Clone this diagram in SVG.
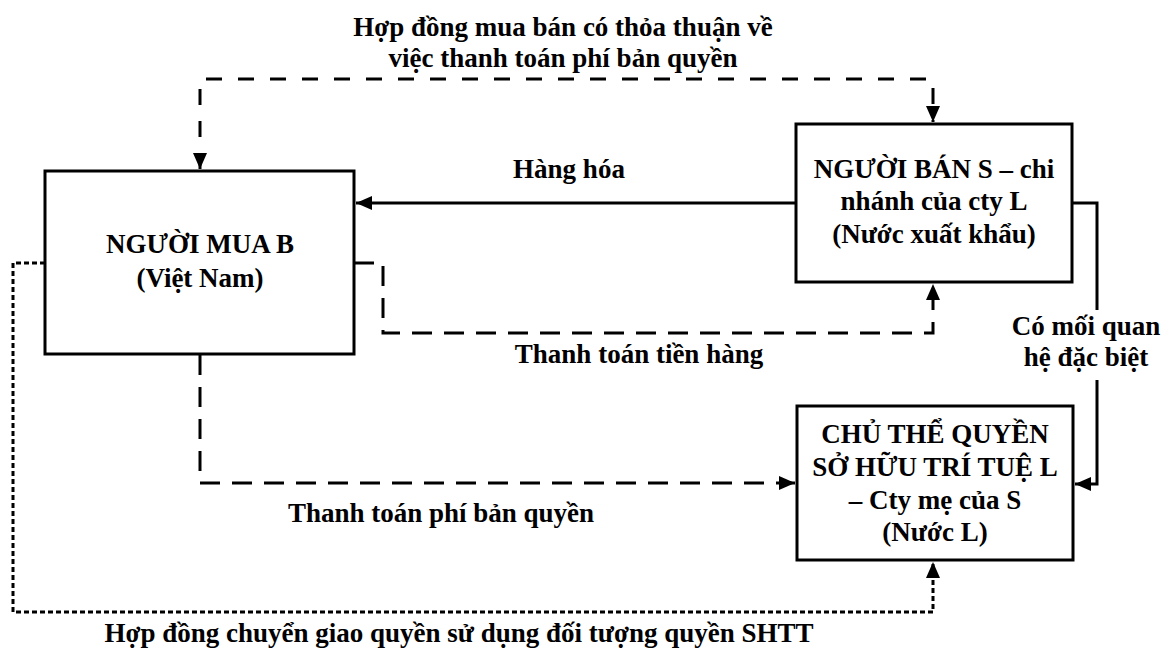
<svg xmlns="http://www.w3.org/2000/svg" width="1164" height="662" viewBox="0 0 1164 662">
<style>
text{font-family:"Liberation Serif","Times New Roman",serif;font-weight:bold;font-size:27px;fill:#000;text-anchor:middle}
.box{fill:#fff;stroke:#000;stroke-width:3}
.c{fill:none;stroke:#000;stroke-width:3}
.dash{stroke-dasharray:20 12}
.dtop{stroke-dasharray:16 16}
.dot{stroke-dasharray:5 3}
</style>
<defs>
<marker id="ah" viewBox="0 0 16 14" refX="16" refY="7" markerWidth="16" markerHeight="14" markerUnits="userSpaceOnUse" orient="auto-start-reverse">
<path d="M0,0 L16,7 L0,14 Z" fill="#000"/>
</marker>
</defs>
<rect width="1164" height="662" fill="#fff"/>
<g id="connectors">
<path class="c dtop" d="M200,169 V79 H933 V122" marker-start="url(#ah)" marker-end="url(#ah)"/>
<path class="c" d="M796,203 H356" marker-end="url(#ah)"/>
<path class="c dash" d="M354,263 H383 V333 H933 V284" marker-end="url(#ah)"/>
<path class="c dash" d="M200,355 V483 H795" marker-end="url(#ah)"/>
<path class="c" d="M1072,203 H1097 V310"/>
<path class="c" d="M1097,380 V484 H1075" marker-end="url(#ah)"/>
<path class="c dot" d="M45,263 H13 V612 H933 V562" marker-end="url(#ah)"/>
</g>
<g id="nodeB">
<rect class="box" x="45" y="171" width="309" height="183"/>
<text x="200" y="253">NGƯỜI MUA B</text>
<text x="200" y="287">(Việt Nam)</text>
</g>
<g id="nodeS">
<rect class="box" x="796" y="124" width="276" height="158"/>
<text x="934" y="178">NGƯỜI BÁN S – chi</text>
<text x="934" y="210">nhánh của cty L</text>
<text x="934" y="243">(Nước xuất khẩu)</text>
</g>
<g id="nodeC">
<rect class="box" x="797" y="406" width="276" height="154"/>
<text x="935" y="443">CHỦ THỂ QUYỀN</text>
<text x="935" y="476">SỞ HỮU TRÍ TUỆ L</text>
<text x="935" y="509">– Cty mẹ của S</text>
<text x="935" y="541">(Nước L)</text>
</g>
<g id="labels">
<text x="563" y="36">Hợp đồng mua bán có thỏa thuận về</text>
<text x="563" y="67">việc thanh toán phí bản quyền</text>
<text x="569" y="178">Hàng hóa</text>
<text x="639" y="363">Thanh toán tiền hàng</text>
<text x="441" y="522">Thanh toán phí bản quyền</text>
<text x="1086" y="335">Có mối quan</text>
<text x="1086" y="366">hệ đặc biệt</text>
<text x="459" y="642">Hợp đồng chuyển giao quyền sử dụng đối tượng quyền SHTT</text>
</g>
</svg>
